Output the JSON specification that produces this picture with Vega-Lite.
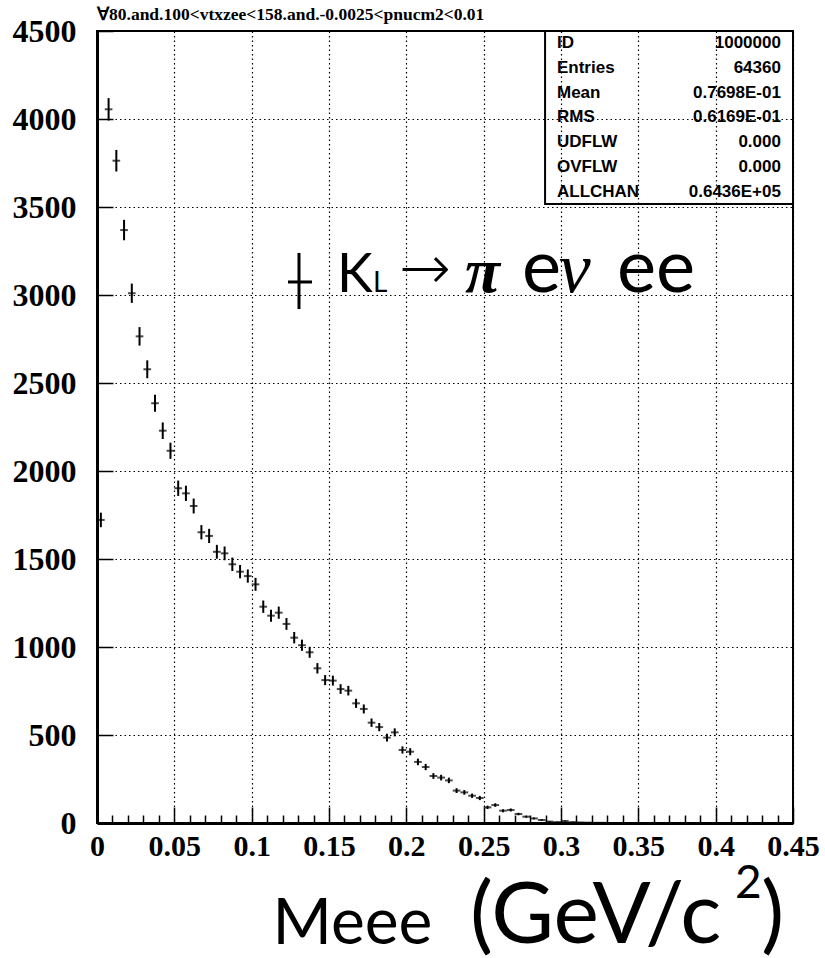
{
  "$schema": "https://vega.github.io/schema/vega-lite/v6.json",
  "width": 696,
  "height": 792,
  "autosize": {"type": "none"},
  "padding": {"left": 97, "top": 31, "right": 32, "bottom": 135},
  "background": "white",
  "title": {
    "text": "∀80.and.100<vtxzee<158.and.-0.0025<pnucm2<0.01",
    "anchor": "start",
    "frame": "group",
    "font": "Liberation Serif",
    "fontSize": 17.5,
    "fontWeight": "bold",
    "color": "black",
    "offset": -8
  },
  "config": {
    "view": {"stroke": "black", "strokeWidth": 2},
    "axis": {"labelOverlap": false, "labelFlush": false, "labelBound": false},
    "axisX": {"labelOverlap": false},
    "axisY": {"labelOverlap": false}
  },
  "datasets": {
    "hist": [
      {"m": 0.0025, "n": 1722, "err": 41.5},
      {"m": 0.0075, "n": 4055, "err": 63.7},
      {"m": 0.0125, "n": 3763, "err": 61.3},
      {"m": 0.0175, "n": 3369, "err": 58.0},
      {"m": 0.0225, "n": 3010, "err": 54.9},
      {"m": 0.0275, "n": 2765, "err": 52.6},
      {"m": 0.0325, "n": 2578, "err": 50.8},
      {"m": 0.0375, "n": 2385, "err": 48.8},
      {"m": 0.0425, "n": 2229, "err": 47.2},
      {"m": 0.0475, "n": 2115, "err": 46.0},
      {"m": 0.0525, "n": 1902, "err": 43.6},
      {"m": 0.0575, "n": 1873, "err": 43.3},
      {"m": 0.0625, "n": 1801, "err": 42.4},
      {"m": 0.0675, "n": 1652, "err": 40.6},
      {"m": 0.0725, "n": 1631, "err": 40.4},
      {"m": 0.0775, "n": 1541, "err": 39.3},
      {"m": 0.0825, "n": 1532, "err": 39.1},
      {"m": 0.0875, "n": 1470, "err": 38.3},
      {"m": 0.0925, "n": 1428, "err": 37.8},
      {"m": 0.0975, "n": 1403, "err": 37.5},
      {"m": 0.1025, "n": 1356, "err": 36.8},
      {"m": 0.1075, "n": 1229, "err": 35.1},
      {"m": 0.1125, "n": 1178, "err": 34.3},
      {"m": 0.1175, "n": 1195, "err": 34.6},
      {"m": 0.1225, "n": 1131, "err": 33.6},
      {"m": 0.1275, "n": 1053, "err": 32.4},
      {"m": 0.1325, "n": 1010, "err": 31.8},
      {"m": 0.1375, "n": 970, "err": 31.1},
      {"m": 0.1425, "n": 879, "err": 29.6},
      {"m": 0.1475, "n": 812, "err": 28.5},
      {"m": 0.1525, "n": 809, "err": 28.4},
      {"m": 0.1575, "n": 761, "err": 27.6},
      {"m": 0.1625, "n": 752, "err": 27.4},
      {"m": 0.1675, "n": 680, "err": 26.1},
      {"m": 0.1725, "n": 648, "err": 25.5},
      {"m": 0.1775, "n": 570, "err": 23.9},
      {"m": 0.1825, "n": 545, "err": 23.3},
      {"m": 0.1875, "n": 485, "err": 22.0},
      {"m": 0.1925, "n": 515, "err": 22.7},
      {"m": 0.1975, "n": 415, "err": 20.4},
      {"m": 0.2025, "n": 405, "err": 20.1},
      {"m": 0.2075, "n": 347, "err": 18.6},
      {"m": 0.2125, "n": 318, "err": 17.8},
      {"m": 0.2175, "n": 267, "err": 16.3},
      {"m": 0.2225, "n": 258, "err": 16.1},
      {"m": 0.2275, "n": 242, "err": 15.6},
      {"m": 0.2325, "n": 184, "err": 13.6},
      {"m": 0.2375, "n": 174, "err": 13.2},
      {"m": 0.2425, "n": 155, "err": 12.4},
      {"m": 0.2475, "n": 142, "err": 11.9},
      {"m": 0.2525, "n": 89, "err": 9.4},
      {"m": 0.2575, "n": 102, "err": 10.1},
      {"m": 0.2625, "n": 70, "err": 8.4},
      {"m": 0.2675, "n": 74, "err": 8.6},
      {"m": 0.2725, "n": 51, "err": 7.1},
      {"m": 0.2775, "n": 36, "err": 6.0},
      {"m": 0.2825, "n": 26, "err": 5.1},
      {"m": 0.2875, "n": 17, "err": 4.1},
      {"m": 0.2925, "n": 8, "err": 2.8},
      {"m": 0.2975, "n": 5, "err": 2.2},
      {"m": 0.3025, "n": 11, "err": 3.3},
      {"m": 0.3075, "n": 5, "err": 2.2},
      {"m": 0.3125, "n": 3, "err": 1.7},
      {"m": 0.3175, "n": 2, "err": 1.4},
      {"m": 0.3225, "n": 1, "err": 1.0},
      {"m": 0.3275, "n": 1, "err": 1.0}
    ],
    "stats": [
      {
        "names": ["ID", "Entries", "Mean", "RMS", "UDFLW", "OVFLW", "ALLCHAN"],
        "values": ["1000000", "64360", "0.7698E-01", "0.6169E-01", "0.000", "0.000", "0.6436E+05"]
      }
    ]
  },
  "layer": [
    {
      "data": {"name": "hist"},
      "mark": {"type": "tick", "orient": "horizontal", "size": 7.7, "thickness": 2, "color": "black"},
      "encoding": {
        "x": {
          "field": "m",
          "type": "quantitative",
          "scale": {"domain": [0, 0.45], "nice": false, "zero": false},
          "axis": {
            "orient": "bottom",
            "tickCount": 45,
            "labelExpr": "round(datum.value * 100) % 5 === 0 ? format(datum.value, '~g') : ''",
            "tickSize": {"condition": {"test": "round(datum.value * 100) % 5 === 0", "value": -16}, "value": -8},
            "tickColor": "black",
            "tickWidth": 1.5,
            "grid": true,
            "gridOpacity": {"condition": {"test": "round(datum.value * 100) % 5 === 0", "value": 1}, "value": 0},
            "gridColor": "black",
            "gridDash": [1.5, 3],
            "gridWidth": 1.2,
            "domainColor": "black",
            "domainWidth": 3,
            "labelFont": "Liberation Serif",
            "labelFontWeight": "bold",
            "labelFontSize": 30,
            "labelColor": "black",
            "labelPadding": 24,
            "labelFlush": false,
            "labelOverlap": false,
            "labelBound": false,
            "title": "Meee",
            "titleFont": "Lato",
            "titleFontSize": 64,
            "titleFontWeight": "normal",
            "titleColor": "black",
            "titleAlign": "left",
            "titleBaseline": "alphabetic",
            "titleX": 175,
            "titleY": 120
          }
        },
        "y": {
          "field": "n",
          "type": "quantitative",
          "scale": {"domain": [0, 4500], "nice": false},
          "axis": {
            "orient": "left",
            "tickCount": 18,
            "values": [0, 250, 500, 750, 1000, 1250, 1500, 1750, 2000, 2250, 2500, 2750, 3000, 3250, 3500, 3750, 4000, 4250, 4500],
            "labelExpr": "datum.value % 500 === 0 ? format(datum.value, 'd') : ''",
            "tickSize": {"condition": {"test": "datum.value % 500 === 0", "value": -16}, "value": -8},
            "tickColor": "black",
            "tickWidth": 1.5,
            "grid": true,
            "gridOpacity": {"condition": {"test": "datum.value % 500 === 0", "value": 1}, "value": 0},
            "gridColor": "black",
            "gridDash": [1.5, 3],
            "gridWidth": 1.2,
            "domainColor": "black",
            "domainWidth": 3,
            "labelFont": "Liberation Serif",
            "labelFontWeight": "bold",
            "labelFontSize": 32,
            "labelColor": "black",
            "labelPadding": 37,
            "labelFlush": false,
            "labelOverlap": false,
            "labelBound": false,
            "title": null
          }
        }
      }
    },
    {
      "data": {"name": "hist"},
      "mark": {"type": "errorbar", "color": "black", "rule": {"strokeWidth": 2}},
      "encoding": {
        "x": {"field": "m", "type": "quantitative"},
        "y": {"field": "n", "type": "quantitative"},
        "yError": {"field": "err"}
      }
    },
    {
      "data": {"values": [{}]},
      "mark": {"type": "rect", "filled": false, "stroke": "black", "strokeWidth": 2},
      "encoding": {
        "x": {"datum": 0.2897},
        "x2": {"datum": 0.45},
        "y": {"datum": 3517},
        "y2": {"datum": 4500}
      }
    },
    {
      "data": {"name": "stats"},
      "mark": {"type": "text", "font": "Liberation Sans", "fontWeight": "bold", "fontSize": 17, "align": "left", "baseline": "alphabetic", "lineHeight": 24.8, "color": "black"},
      "encoding": {
        "x": {"datum": 0.2974},
        "y": {"datum": 4403},
        "text": {"field": "names"}
      }
    },
    {
      "data": {"name": "stats"},
      "mark": {"type": "text", "font": "Liberation Sans", "fontWeight": "bold", "fontSize": 17, "align": "right", "baseline": "alphabetic", "lineHeight": 24.8, "color": "black"},
      "encoding": {
        "x": {"datum": 0.4422},
        "y": {"datum": 4403},
        "text": {"field": "values"}
      }
    },
    {
      "data": {"values": [{}]},
      "mark": {"type": "rule", "color": "black", "strokeWidth": 3},
      "encoding": {
        "x": {"datum": 0.1306},
        "y": {"datum": 2920},
        "y2": {"datum": 3239}
      }
    },
    {
      "data": {"values": [{}]},
      "mark": {"type": "rule", "color": "black", "strokeWidth": 3},
      "encoding": {
        "x": {"datum": 0.1235},
        "x2": {"datum": 0.139},
        "y": {"datum": 3074}
      }
    },
    {
      "data": {"values": [{}]},
      "mark": {"type": "text", "font": "Lato", "fontSize": 54, "align": "left", "baseline": "alphabetic", "color": "black", "text": "K"},
      "encoding": {"x": {"datum": 0.1552}, "y": {"datum": 3017}}
    },
    {
      "data": {"values": [{}]},
      "mark": {"type": "text", "font": "Lato", "fontSize": 28, "align": "left", "baseline": "alphabetic", "color": "black", "text": "L"},
      "encoding": {"x": {"datum": 0.1785}, "y": {"datum": 3017}}
    },
    {
      "data": {"values": [{}]},
      "mark": {"type": "text", "font": "DejaVu Sans", "fontSize": 62, "fontWeight": 200, "align": "left", "baseline": "middle", "color": "black", "text": "→"},
      "encoding": {"x": {"datum": 0.1952}, "y": {"datum": 3140}}
    },
    {
      "data": {"values": [{}]},
      "mark": {"type": "text", "font": "Liberation Serif", "fontSize": 64, "fontWeight": "bold", "fontStyle": "italic", "align": "left", "baseline": "alphabetic", "color": "black", "text": "π"},
      "encoding": {"x": {"datum": 0.2379}, "y": {"datum": 3017}}
    },
    {
      "data": {"values": [{}]},
      "mark": {"type": "text", "font": "Lato", "fontSize": 74, "align": "left", "baseline": "alphabetic", "color": "black", "text": "e"},
      "encoding": {"x": {"datum": 0.2748}, "y": {"datum": 3017}}
    },
    {
      "data": {"values": [{}]},
      "mark": {"type": "text", "font": "Liberation Serif", "fontSize": 72, "fontStyle": "italic", "align": "left", "baseline": "alphabetic", "color": "black", "text": "ν"},
      "encoding": {"x": {"datum": 0.2985}, "y": {"datum": 3017}}
    },
    {
      "data": {"values": [{}]},
      "mark": {"type": "text", "font": "Lato", "fontSize": 74, "align": "left", "baseline": "alphabetic", "color": "black", "text": "ee"},
      "encoding": {"x": {"datum": 0.3362}, "y": {"datum": 3017}}
    },
    {
      "data": {"values": [{}]},
      "mark": {"type": "text", "font": "Lato", "fontSize": 86, "align": "left", "baseline": "alphabetic", "color": "black", "text": "(GeV/c"},
      "encoding": {"x": {"datum": 0.2412}, "y": {"datum": -682}}
    },
    {
      "data": {"values": [{}]},
      "mark": {"type": "text", "font": "Lato", "fontSize": 46, "align": "left", "baseline": "alphabetic", "color": "black", "text": "2"},
      "encoding": {"x": {"datum": 0.4125}, "y": {"datum": -427}}
    },
    {
      "data": {"values": [{}]},
      "mark": {"type": "text", "font": "Lato", "fontSize": 86, "align": "left", "baseline": "alphabetic", "color": "black", "text": ")"},
      "encoding": {"x": {"datum": 0.4295}, "y": {"datum": -682}}
    }
  ]
}
